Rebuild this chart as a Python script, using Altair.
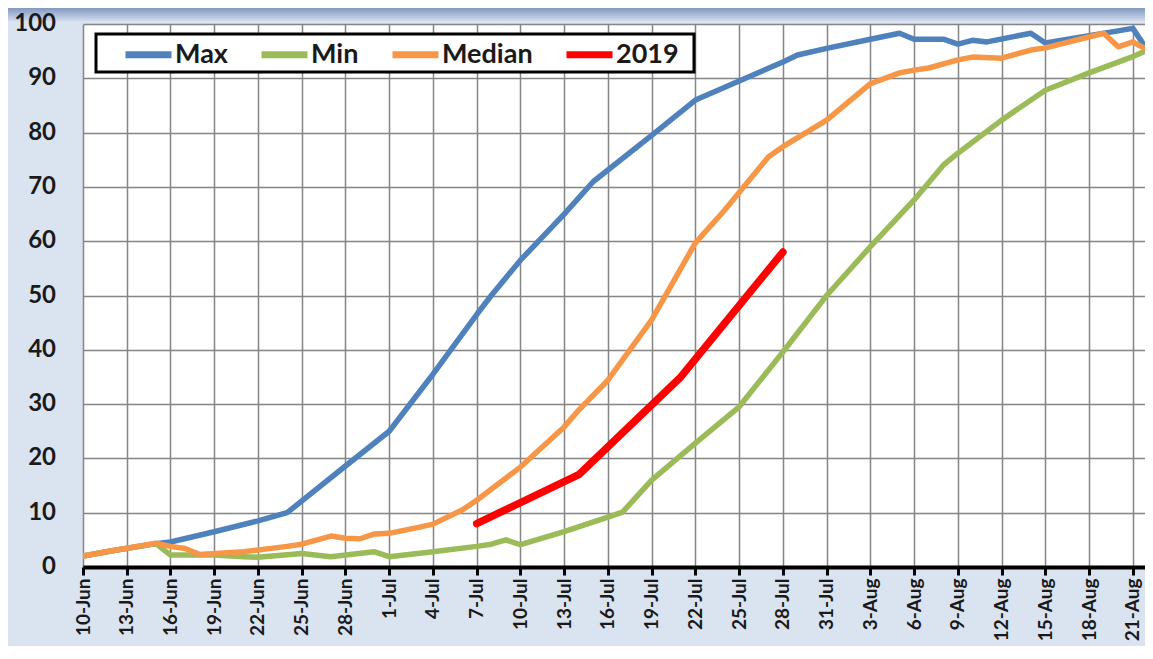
import altair as alt
import pandas as pd

YEAR = 2019

series_names = ["Max", "Min", "Median", "2019"]
series_colors = ["#4f81bd", "#9bbb59", "#f79646", "#ff0000"]

max_days = ["06-10", "06-12", "06-15", "06-16", "06-19", "06-22", "06-24", "06-28",
            "07-01", "07-04", "07-07", "07-08", "07-10", "07-13", "07-15", "07-19",
            "07-22", "07-25", "07-28", "07-29", "07-31", "08-03", "08-05", "08-06",
            "08-08", "08-09", "08-10", "08-11", "08-14", "08-15", "08-21", "08-22"]
max_vals = [2.0, 3.0, 4.3, 4.6, 6.5, 8.5, 10.0, 18.6,
            25.0, 35.5, 46.5, 50.0, 56.5, 65.0, 71.0, 79.5,
            86.0, 89.5, 93.0, 94.3, 95.5, 97.2, 98.3, 97.2,
            97.2, 96.3, 97.0, 96.7, 98.3, 96.5, 99.2, 95.2]

min_days = ["06-10", "06-12", "06-15", "06-16", "06-19", "06-21", "06-22", "06-25",
            "06-27", "06-28", "06-30", "07-01", "07-04", "07-07", "07-08", "07-09",
            "07-10", "07-13", "07-16", "07-17", "07-19", "07-22", "07-25", "07-28",
            "07-31", "08-03", "08-06", "08-08", "08-09", "08-12", "08-15", "08-18",
            "08-21", "08-22"]
min_vals = [2.0, 3.0, 4.3, 2.2, 2.2, 1.9, 1.8, 2.5,
            1.9, 2.2, 2.8, 1.9, 2.8, 3.8, 4.2, 5.0,
            4.1, 6.5, 9.2, 10.1, 16.0, 22.8, 29.5, 39.6,
            50.0, 59.0, 67.6, 74.0, 76.2, 82.3, 87.8, 91.0,
            94.0, 95.2]

median_days = ["06-10", "06-12", "06-15", "06-16", "06-17", "06-18", "06-21", "06-24",
               "06-25", "06-27", "06-28", "06-29", "06-30", "07-01", "07-03", "07-04",
               "07-06", "07-07", "07-10", "07-13", "07-14", "07-16", "07-19", "07-22",
               "07-24", "07-27", "07-28", "07-31", "08-03", "08-05", "08-06", "08-07",
               "08-09", "08-10", "08-12", "08-14", "08-15", "08-19", "08-20", "08-21",
               "08-22"]
median_vals = [2.0, 3.0, 4.4, 3.8, 3.4, 2.3, 2.8, 3.8,
               4.2, 5.7, 5.3, 5.2, 6.1, 6.2, 7.3, 7.9,
               10.5, 12.3, 18.4, 25.8, 28.9, 34.4, 45.5, 59.7,
               65.7, 75.5, 77.4, 82.3, 89.0, 91.0, 91.5, 91.9,
               93.4, 93.9, 93.7, 95.2, 95.6, 98.3, 95.8, 96.7,
               95.2]

y2019_days = ["07-07", "07-14", "07-21", "07-28"]
y2019_vals = [8.0, 17.0, 35.0, 58.0]

tick_days = ["06-10", "06-13", "06-16", "06-19", "06-22", "06-25", "06-28",
             "07-01", "07-04", "07-07", "07-10", "07-13", "07-16", "07-19",
             "07-22", "07-25", "07-28", "07-31", "08-03", "08-06", "08-09",
             "08-12", "08-15", "08-18", "08-21"]
y_ticks = [0, 10, 20, 30, 40, 50, 60, 70, 80, 90, 100]

rows = []
for name, days, vals in [("Max", max_days, max_vals), ("Min", min_days, min_vals),
                         ("Median", median_days, median_vals), ("2019", y2019_days, y2019_vals)]:
    for d, v in zip(days, vals):
        rows.append({"series": name, "date": f"{YEAR}-{d}T00:00:00", "value": v})
df = pd.DataFrame(rows)


def dt(md, hours=0):
    m, d = md.split("-")
    return alt.DateTime(year=YEAR, month=int(m), date=int(d), hours=hours)


tick_vals = [dt(t) for t in tick_days]

W, H = 1062, 543
LABEL_COLOR = "#1a1a1a"
GRID = "#858585"

x_enc = alt.X(
    "date:T",
    scale=alt.Scale(domain=[dt("06-10"), dt("08-21", 20)]),
    axis=alt.Axis(values=tick_vals, format="%-d-%b", labelAngle=270, labelFont="Lato",
                  labelFontSize=19, labelFontWeight="bold", labelColor=LABEL_COLOR,
                  domainColor="black", domainWidth=4, tickColor="black", tickWidth=3,
                  tickSize=8, labelPadding=3, grid=True, gridColor=GRID,
                  gridWidth=1.5, title=None, labelOverlap=False, labelFlush=False),
)
y_scale = alt.Scale(domain=[0, 100], nice=False)
y_axis = alt.Axis(values=y_ticks, labels=False, domain=False, ticks=False,
                  grid=True, gridColor=GRID, gridWidth=1.5, title=None)
y_enc = alt.Y("value:Q", scale=y_scale, axis=y_axis)

color_enc = alt.Color(
    "series:N", sort=series_names,
    scale=alt.Scale(domain=series_names, range=series_colors),
    legend=alt.Legend(orient="none", legendX=39, legendY=4, direction="horizontal",
                      title=None, symbolType="stroke", symbolStrokeWidth=7,
                      symbolSize=2116, labelFont="Lato", labelFontSize=27,
                      labelFontWeight="bold", labelColor=LABEL_COLOR,
                      labelOffset=0, columnPadding=19, padding=0),
)

base = alt.Chart(df).encode(x=x_enc, y=y_enc, color=color_enc)

hist_lines = base.transform_filter(alt.datum.series != "2019").mark_line(
    strokeJoin="round", strokeCap="round", strokeWidth=5.5, clip=True)
cur_line = base.transform_filter(alt.datum.series == "2019").mark_line(
    strokeJoin="round", strokeCap="round", strokeWidth=7.5, clip=True)

dummy = alt.Data(values=[{"k": 1}])

band = alt.Chart(dummy).mark_rect(
    fill=alt.Gradient(gradient="linear",
                      stops=[alt.GradientStop(color="#8398bf", offset=0),
                             alt.GradientStop(color="#d0dbee", offset=1)],
                      x1=0, x2=0, y1=0, y2=1)
).encode(x=alt.value(-75), x2=alt.value(W), y=alt.value(-16), y2=alt.value(-3))

ylabels = alt.Chart(pd.DataFrame({"value": y_ticks})).mark_text(
    align="right", baseline="middle", font="Lato", fontSize=24, fontWeight="bold",
    color=LABEL_COLOR
).encode(y=alt.Y("value:Q", scale=y_scale, axis=y_axis), x=alt.value(-27),
         text=alt.Text("value:Q"))

frame = alt.Chart(dummy).mark_rect(fill="white", stroke="black", strokeWidth=3).encode(
    x=alt.value(13), x2=alt.value(611), y=alt.value(10), y2=alt.value(48)
)

chart = alt.layer(band, hist_lines, cur_line, frame, ylabels).properties(
    width=W, height=H,
    padding={"left": 75, "top": 16, "right": 0, "bottom": 79},
    autosize=alt.AutoSizeParams(type="none"),
).configure(background="#dae3f0", font="Lato").configure_view(fill="white", strokeWidth=0)

chart.save("out.html", embed_options={"renderer": "svg", "actions": False})
